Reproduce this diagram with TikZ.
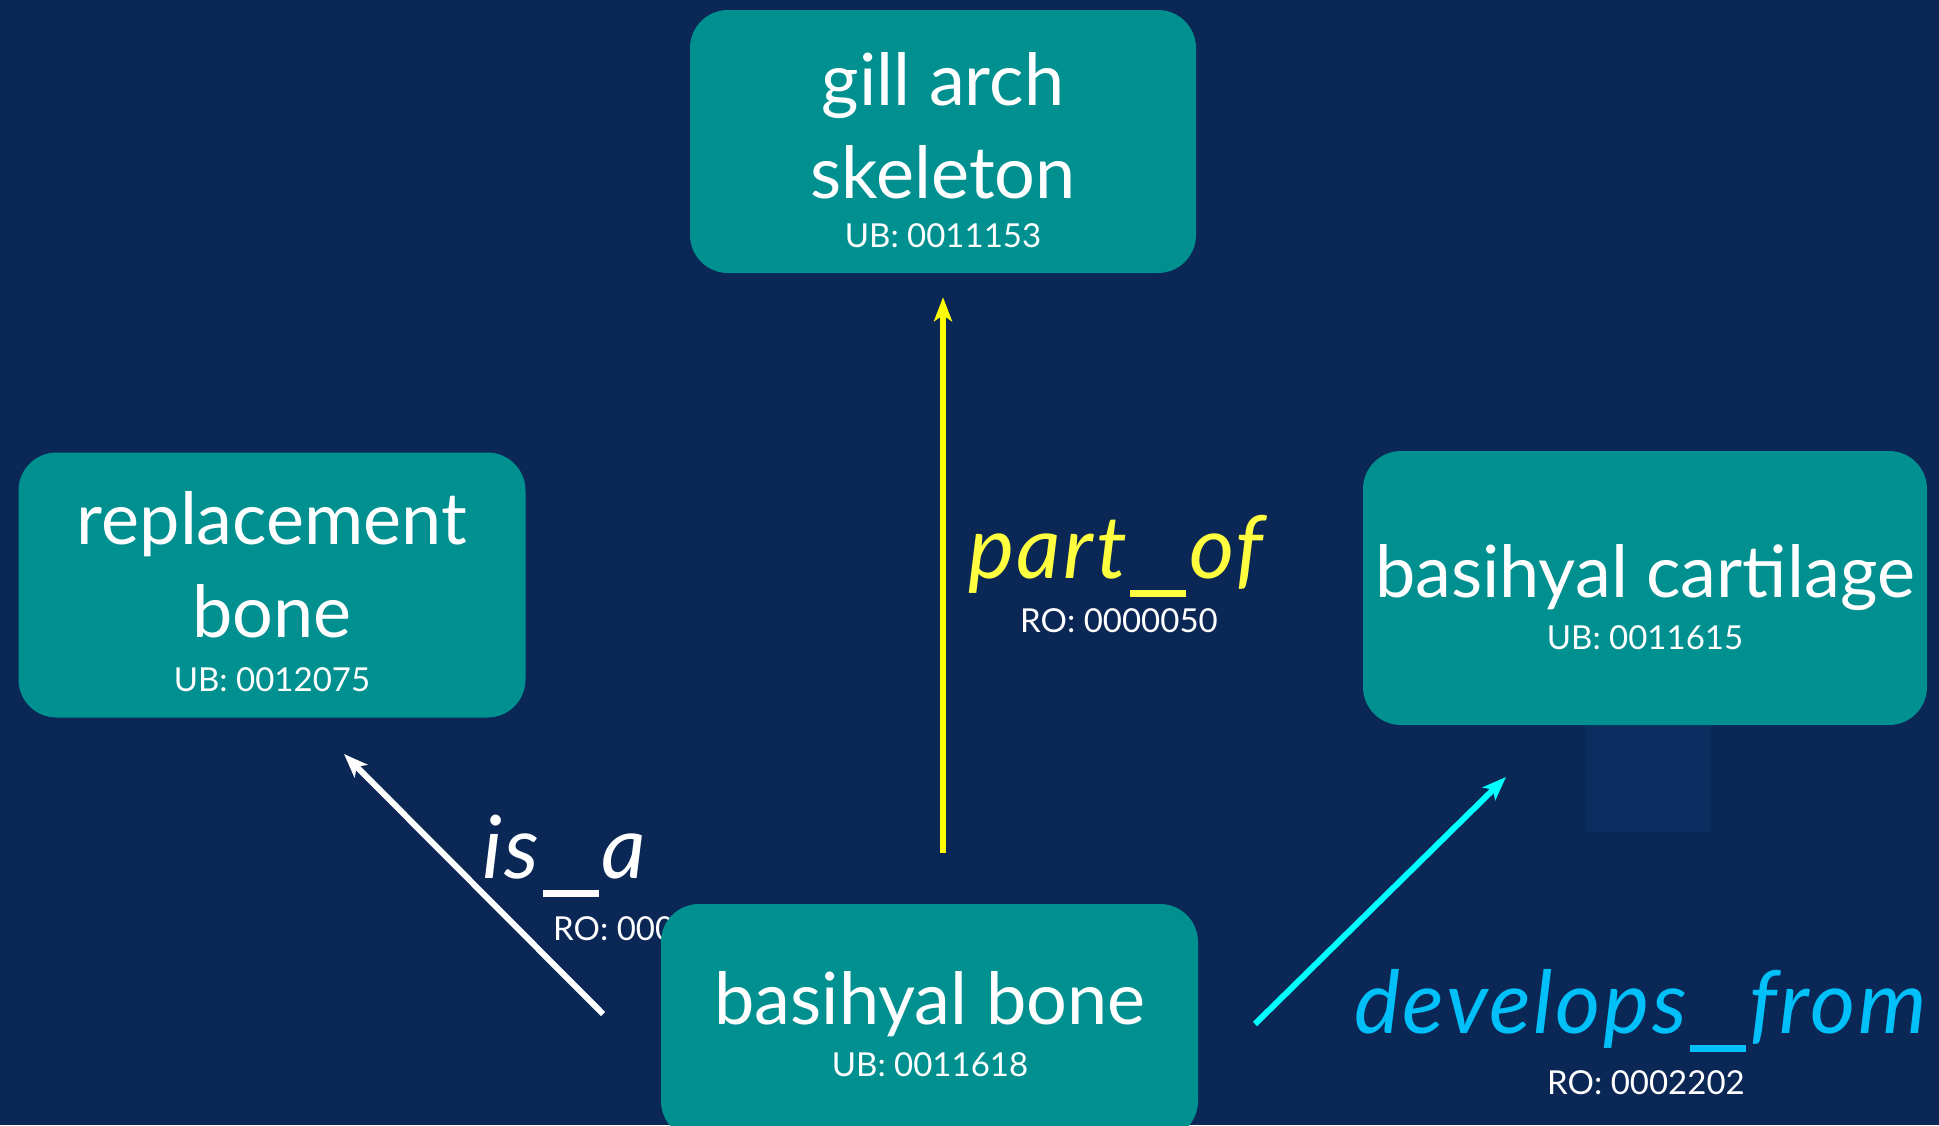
\documentclass[tikz,border=0pt]{standalone}
\usepackage{fontspec}
\setmainfont{Lato}
\usetikzlibrary{arrows.meta,calc}
\definecolor{bg}{HTML}{0B2755}
\definecolor{bgtwo}{HTML}{0B2D60}
\definecolor{boxteal}{HTML}{009090}
\definecolor{ylwline}{HTML}{FFFF00}
\definecolor{ylwtext}{HTML}{FFFF40}
\definecolor{cynline}{HTML}{00FFFF}
\definecolor{cyntext}{HTML}{00C0FA}
\newcommand\relus{\kern3pt\rule[-19pt]{56pt}{7pt}\kern3pt}
\begin{document}
\begin{tikzpicture}[x=1pt,y=-1pt,
  box/.style={fill=boxteal, draw=none, rounded corners=38pt, inner sep=0pt},
  title/.style={text=white, font=\fontsize{72pt}{80pt}\selectfont, anchor=base, inner sep=0pt},
  ident/.style={text=white, font=\fontsize{33pt}{36pt}\selectfont, anchor=base, inner sep=0pt},
  rel/.style={font=\fontsize{87pt}{90pt}\selectfont\itshape\addfontfeatures{LetterSpace=3.0}, anchor=base west, inner sep=0pt},
  relid/.style={text=white, font=\fontsize{33pt}{36pt}\selectfont, anchor=base west, inner sep=0pt},
  conn/.style={line width=6pt, -{Stealth[length=24pt,width=18pt,inset=6pt]}}
]
\clip (0,0) rectangle (1939,1125);
\fill[bg] (0,0) rectangle (1939,1125);
\fill[bgtwo] (1586,725) rectangle (1711,832);

% is_a label (partly hidden under the basihyal bone box)
\node[rel, text=white] (isaL) at (482,878) {is\relus a};
\node[relid] (isaId) at (553,940) {RO: 000};

% boxes
\node[box, minimum width=506pt, minimum height=263pt] (gill) at (943,141.5) {};
\node[box, minimum width=507pt, minimum height=265pt] (repl) at (272,585) {};
\node[box, minimum width=564pt, minimum height=274pt] (cart) at (1645,588) {};
\node[box, minimum width=537pt, minimum height=235pt] (bone) at (929.5,1021.5) {};

% box texts
\node[title] (gillA) at (943,105) {gill arch};
\node[title] (gillB) at (943,198) {skeleton};
\node[ident] (gillC) at (943,247) {UB: 0011153};

\node[title] (replA) at (272,544) {replacement};
\node[title] (replB) at (272,637) {bone};
\node[ident] (replC) at (272,691) {UB: 0012075};

\node[title] (cartA) at (1645,597) {basihyal cartilage};
\node[ident] (cartC) at (1645,649) {UB: 0011615};

\node[title] (boneA) at (930,1024) {basihyal bone};
\node[ident] (boneC) at (930,1076) {UB: 0011618};

% relation labels
\node[rel, text=ylwtext] (partL) at (968,578) {part\relus of};
\node[relid] (partId) at (1020,632) {RO: 0000050};
\node[rel, text=cyntext] (devL) at (1354,1033) {develops\relus from};
\node[relid] (devId) at (1547,1094) {RO: 0002202};

% connectors
\draw[conn, ylwline, shorten <=51pt, shorten >=24pt] (gill.south |- bone.north) -- (gill.south);
\coordinate (isaTail) at (603,1014);
\coordinate (isaTip) at (344,754);
\draw[conn, white] (isaTail) -- (isaTip);
\coordinate (devTail) at (1255,1024);
\coordinate (devTip) at (1506,777);
\draw[conn, cynline] (devTail) -- (devTip);
\end{tikzpicture}
\end{document}
